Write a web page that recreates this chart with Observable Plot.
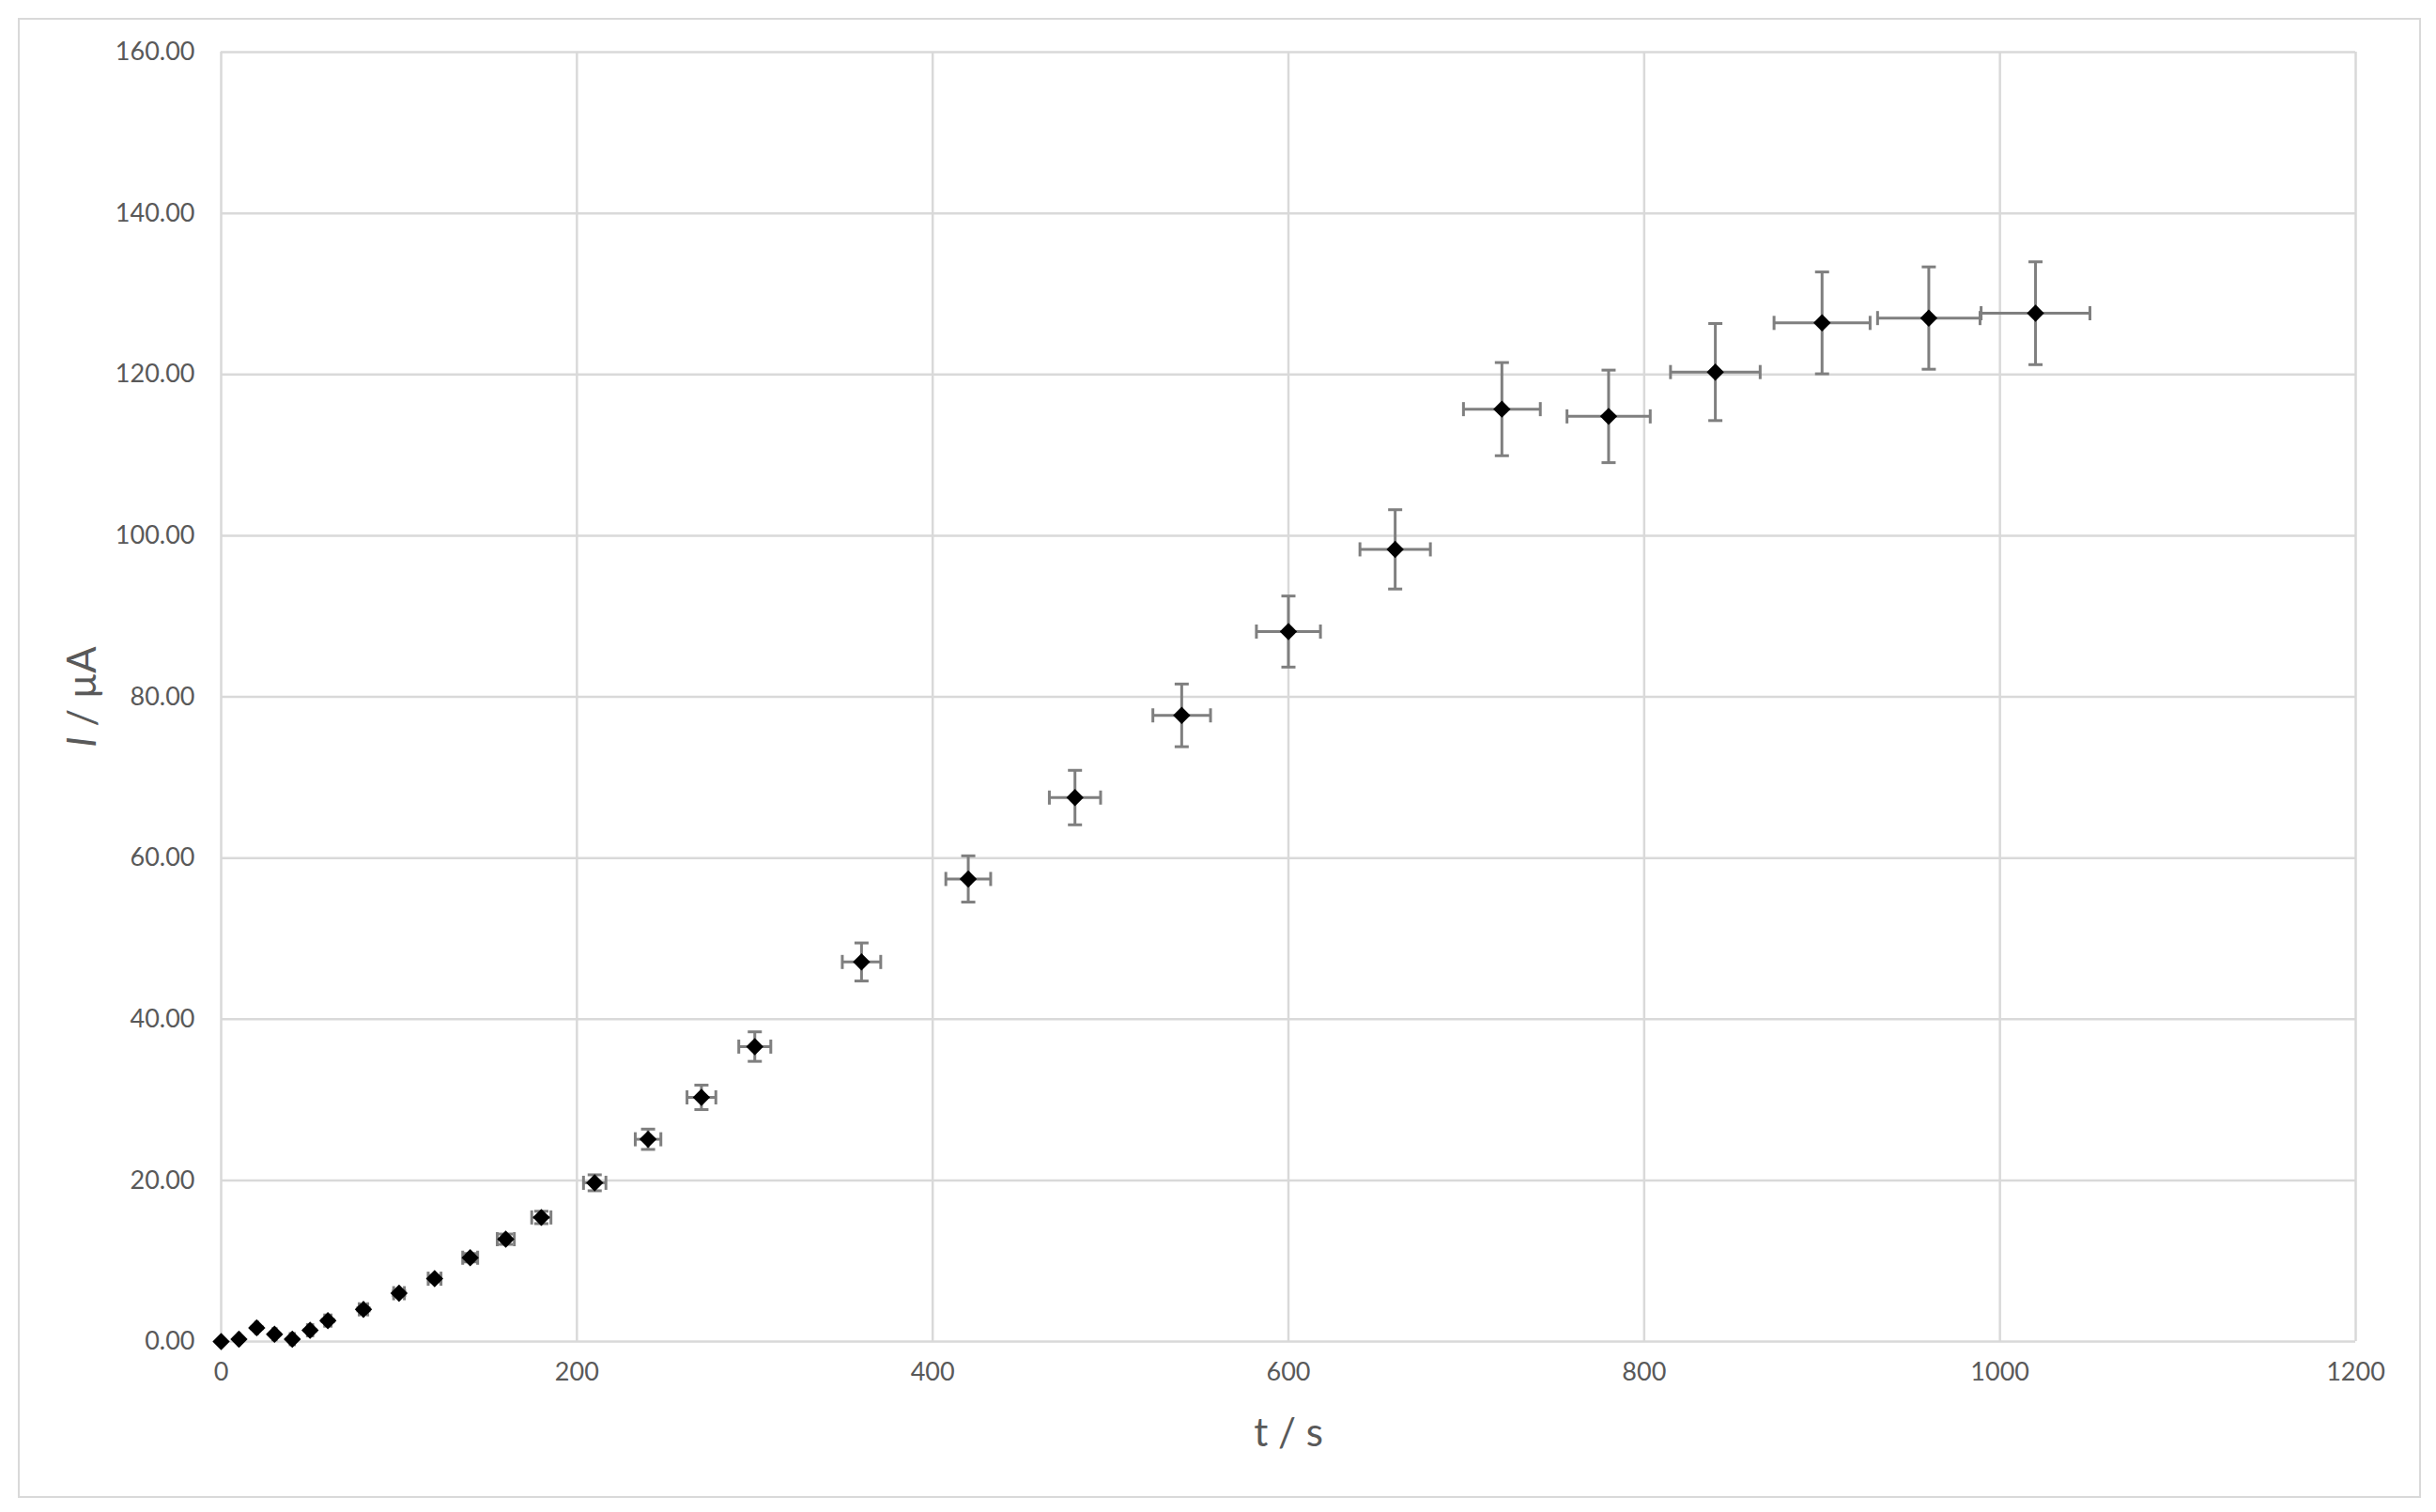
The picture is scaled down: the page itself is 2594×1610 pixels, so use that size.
<!DOCTYPE html>
<html>
<head>
<meta charset="utf-8">
<script src="https://cdn.jsdelivr.net/npm/d3@7"></script>
<script src="https://cdn.jsdelivr.net/npm/@observablehq/plot@0.6"></script>
<style>
html, body { margin: 0; padding: 0; background: #fff; }
#wrap { position: relative; width: 2594px; height: 1610px; overflow: hidden; }
#wrap svg { position: absolute; left: 0; top: 0; }
#border { position: absolute; left: 19px; top: 19px; width: 2555px; height: 1572px; border: 2px solid #d9d9d9; pointer-events: none; }
</style>
</head>
<body>
<div id="wrap"><div id="border"></div></div>
<script>
// time (s)
const tValues = [0, 10, 20, 30, 40, 50, 60, 80, 100, 120, 140, 160, 180, 210, 240, 270, 300, 360, 420, 480, 540, 600, 660, 720, 780, 840, 900, 960, 1020];
// current (µA)
const iValues = [0.0, 0.3, 1.7, 0.9, 0.3, 1.4, 2.6, 4.0, 6.0, 7.8, 10.4, 12.7, 15.4, 19.7, 25.1, 30.3, 36.6, 47.1, 57.4, 67.5, 77.7, 88.1, 98.3, 115.7, 114.8, 120.3, 126.4, 127.0, 127.6];
// error in current (µA)
const iErrors = [0.00, 0.02, 0.09, 0.05, 0.02, 0.07, 0.13, 0.20, 0.30, 0.39, 0.52, 0.64, 0.77, 0.99, 1.26, 1.52, 1.83, 2.36, 2.87, 3.38, 3.89, 4.41, 4.92, 5.78, 5.74, 6.02, 6.32, 6.35, 6.38];
// error in time (s)
const tErrors = [0.0, 0.3, 0.6, 0.9, 1.2, 1.5, 1.8, 2.4, 3.0, 3.6, 4.2, 4.8, 5.4, 6.3, 7.2, 8.1, 9.0, 10.8, 12.6, 14.4, 16.2, 18.0, 19.8, 21.6, 23.4, 25.2, 27.0, 28.8, 30.6];

const xTicks = [0, 200, 400, 600, 800, 1000, 1200];
const yTicks = [0, 20, 40, 60, 80, 100, 120, 140, 160];
const xTitle = "t / s";
const yTitle = "I / µA";

const data = tValues.map((t, i) => ({t, I: iValues[i], eI: iErrors[i], eT: tErrors[i]}));

const capH = {draw(ctx) { ctx.moveTo(-7.5, 0); ctx.lineTo(7.5, 0); }};
const capV = {draw(ctx) { ctx.moveTo(0, -7.5); ctx.lineTo(0, 7.5); }};
const barColor = "#7f7f7f";
const textColor = "#595959";

const chart = Plot.plot({
  width: 2594,
  height: 1610,
  marginLeft: 235,
  marginRight: 86,
  marginTop: 55,
  marginBottom: 182,
  style: {fontFamily: "Lato, 'Open Sans', sans-serif", fontSize: "27px", color: textColor, background: "transparent"},
  x: {domain: [0, 1200], label: null},
  y: {domain: [0, 160], label: null},
  marks: [
    Plot.gridX(xTicks, {stroke: "#d9d9d9", strokeOpacity: 1, strokeWidth: 2.5}),
    Plot.gridY(yTicks, {stroke: "#d9d9d9", strokeOpacity: 1, strokeWidth: 2.5}),
    Plot.axisX(xTicks, {tickSize: 0, tickPadding: 22, label: null, tickFormat: d => String(d), fill: textColor}),
    Plot.axisY(yTicks, {tickSize: 0, tickPadding: 28, label: null, tickFormat: d3.format(".2f"), fill: textColor}),
    Plot.ruleX(data, {x: "t", y1: d => d.I - d.eI, y2: d => d.I + d.eI, stroke: barColor, strokeWidth: 3}),
    Plot.ruleY(data, {y: "I", x1: d => d.t - d.eT, x2: d => d.t + d.eT, stroke: barColor, strokeWidth: 3}),
    Plot.dot(data, {x: "t", y: d => d.I - d.eI, symbol: capH, r: 8, fill: "none", stroke: barColor, strokeWidth: 3}),
    Plot.dot(data, {x: "t", y: d => d.I + d.eI, symbol: capH, r: 8, fill: "none", stroke: barColor, strokeWidth: 3}),
    Plot.dot(data, {x: d => d.t - d.eT, y: "I", symbol: capV, r: 8, fill: "none", stroke: barColor, strokeWidth: 3}),
    Plot.dot(data, {x: d => d.t + d.eT, y: "I", symbol: capV, r: 8, fill: "none", stroke: barColor, strokeWidth: 3}),
    Plot.dot(data, {x: "t", y: "I", symbol: "diamond2", r: 8.3, fill: "#000", stroke: "none"}),
    Plot.text([xTitle], {text: d => d, frameAnchor: "bottom", dy: 111, fontSize: 42, fill: textColor}),
    Plot.text([yTitle], {text: d => d, frameAnchor: "left", textAnchor: "middle", dx: -147, rotate: -90, fontSize: 42, fill: textColor})
  ]
});

document.getElementById("wrap").appendChild(chart);

// italicize the quantity symbol I in the y title
chart.querySelectorAll("text").forEach(el => {
  if (el.textContent === yTitle) {
    el.textContent = "";
    const ns = "http://www.w3.org/2000/svg";
    const a = document.createElementNS(ns, "tspan");
    a.setAttribute("font-style", "italic");
    a.textContent = "I";
    const b = document.createElementNS(ns, "tspan");
    b.textContent = " / µA";
    el.appendChild(a);
    el.appendChild(b);
  }
});
</script>
</body>
</html>
